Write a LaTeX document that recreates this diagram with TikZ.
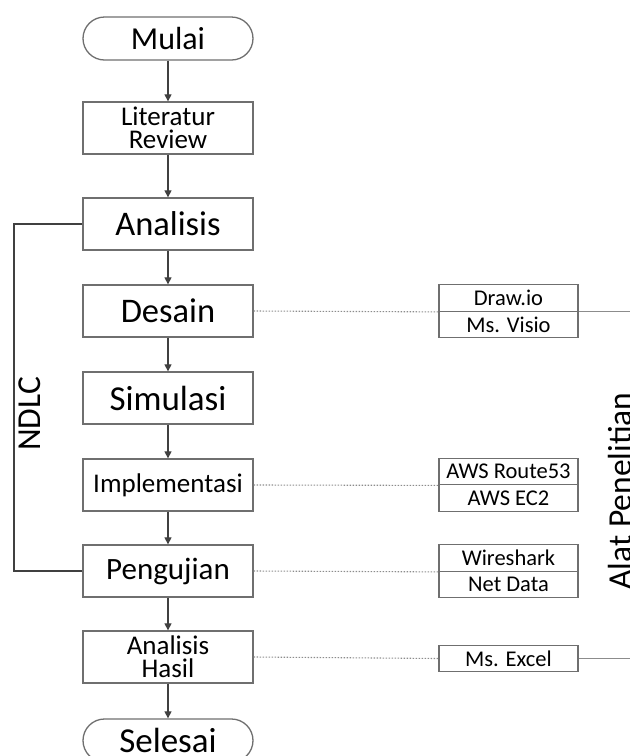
\documentclass[tikz,border=0pt]{standalone}
\usepackage{fontspec}
\setmainfont{Carlito}
\usetikzlibrary{arrows.meta}

\definecolor{boxline}{HTML}{6F6F6F}
\definecolor{flowline}{HTML}{404040}
\definecolor{toolline}{HTML}{8C8C8C}

\tikzset{
    stepbox/.style={draw=boxline, line width=1.3pt, minimum width=170pt,
        minimum height=52pt, inner sep=0pt, align=center},
    termbox/.style={draw=boxline, line width=1.3pt, rounded corners=21.5pt,
        minimum width=170pt, minimum height=43pt, inner sep=0pt},
    toolbox/.style={draw=boxline, line width=1.3pt, minimum width=139pt,
        minimum height=26.5pt, inner sep=0pt, font=\fontsize{22.5}{22.5}\selectfont},
    flow/.style={flowline, line width=1.1pt, -{Triangle[length=7pt,width=7pt]}},
    toollink/.style={toolline, line width=1.1pt, dash pattern=on 1.5pt off 1.5pt},
    sidelabel/.style={rotate=90, anchor=base, font=\fontsize{33.5}{33.5}\selectfont}
}

\begin{document}
\begin{tikzpicture}[x=1pt, y=-1pt]
    \useasboundingbox (0,0) rectangle (630,756);
    \clip (0,0) rectangle (630,756);

    % Alur utama
    \node[termbox, font=\fontsize{32}{32}\selectfont] (mulai) at (168, 38.5) {Mulai};
    \node[stepbox, font=\fontsize{27}{22.5}\selectfont] (litrev) at (168, 128) {Literatur\\Review};
    \node[stepbox, font=\fontsize{34.5}{34.5}\selectfont] (analisis) at (168, 224) {Analisis};
    \node[stepbox, font=\fontsize{34.5}{34.5}\selectfont] (desain) at (168, 311) {Desain};
    \node[stepbox, font=\fontsize{35}{35}\selectfont] (simulasi) at (168, 398) {Simulasi};
    \node[stepbox, font=\fontsize{27}{27}\selectfont] (impl) at (168, 485) {Implementasi};
    \node[stepbox, font=\fontsize{31}{31}\selectfont] (uji) at (168, 571) {Pengujian};
    \node[stepbox, font=\fontsize{27}{23}\selectfont] (hasil) at (168, 657) {Analisis\\Hasil};
    \node[termbox, font=\fontsize{35}{35}\selectfont] (selesai) at (168, 740.5) {Selesai};

    \draw[flow] (mulai) -- (litrev);
    \draw[flow] (litrev) -- (analisis);
    \draw[flow] (analisis) -- (desain);
    \draw[flow] (desain) -- (simulasi);
    \draw[flow] (simulasi) -- (impl);
    \draw[flow] (impl) -- (uji);
    \draw[flow] (uji) -- (hasil);
    \draw[flow] (hasil) -- (selesai);

    % NDLC
    \coordinate (ndlcx) at (14, 0);
    \draw[flowline, line width=1.1pt] (analisis.west) -- (analisis.west -| ndlcx) |- (uji.west);
    \node[sidelabel] (ndlc) at (41, 414) {NDLC};

    % Alat penelitian
    \node[toolbox] (drawio) at (508.5, 298) {Draw.io};
    \node[toolbox] (visio) at (508.5, 324.5) {Ms. Visio};
    \node[toolbox] (route) at (508.5, 471.5) {AWS Route53};
    \node[toolbox] (ec2) at (508.5, 498) {AWS EC2};
    \node[toolbox] (wshark) at (508.5, 558) {Wireshark};
    \node[toolbox] (netdata) at (508.5, 584.5) {Net Data};
    \node[toolbox] (excel) at (508.5, 658.5) {Ms. Excel};

    \draw[toollink] (desain.east) -- (drawio.south west);
    \draw[toollink] (impl.east) -- (route.south west);
    \draw[toollink] (uji.east) -- (wshark.south west);
    \draw[toollink] (hasil.east) -- (excel.west);

    \coordinate (toolx) at (645, 0);
    \draw[toolline, line width=1.1pt] (drawio.south east) -- (drawio.south east -| toolx);
    \draw[toolline, line width=1.1pt] (excel.east) -- (excel.east -| toolx);
    \node[sidelabel] (alat) at (631, 491) {Alat Penelitian};
\end{tikzpicture}
\end{document}
